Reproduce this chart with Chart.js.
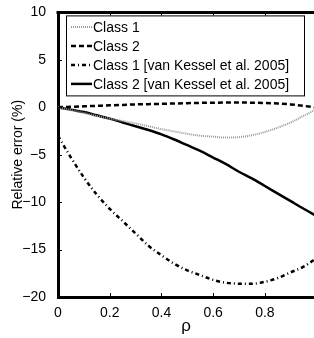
<!DOCTYPE html>
<html>
<head>
<meta charset="UTF-8">
<title>Relative error</title>
<script src="https://cdn.jsdelivr.net/npm/chart.js"></script>
<style>
  html, body { margin: 0; padding: 0; background: #fff; }
  #wrap { width: 314px; height: 338px; }
</style>
</head>
<body>
<div id="wrap"><canvas id="grafico"></canvas></div>
<script>
  const rho = [0, 0.05, 0.1, 0.15, 0.2, 0.25, 0.3, 0.35, 0.4, 0.45, 0.5,
               0.55, 0.6, 0.65, 0.7, 0.75, 0.8, 0.85, 0.9, 0.95, 1.0];
  const class1 = [0, -0.3, -0.6, -0.9, -1.2, -1.45, -1.7, -2.0, -2.3, -2.55, -2.8,
                  -3.0, -3.1, -3.2, -3.15, -2.95, -2.6, -2.15, -1.6, -0.9, -0.2];
  const class2 = [0, 0.05, 0.1, 0.15, 0.2, 0.25, 0.3, 0.33, 0.36, 0.4, 0.43,
                  0.46, 0.48, 0.5, 0.5, 0.48, 0.45, 0.4, 0.3, 0.15, -0.05];
  const class1VK = [-3.0, -5.3, -7.4, -9.2, -10.7, -12.0, -13.3, -14.6, -15.6, -16.5, -17.2,
                    -17.7, -18.2, -18.5, -18.6, -18.6, -18.4, -18.0, -17.4, -16.8, -15.9];
  const class2VK = [0, -0.25, -0.5, -0.85, -1.2, -1.6, -2.0, -2.4, -2.85, -3.4, -4.0,
                    -4.6, -5.3, -6.0, -6.8, -7.5, -8.3, -9.1, -9.9, -10.7, -11.45];
  const legendas = ['Class 1', 'Class 2', 'Class 1 [van Kessel et al. 2005]', 'Class 2 [van Kessel et al. 2005]'];
  const yTicks = [10, 5, 0, -5, -10, -15, -20];
  const xTicks = [0, 0.2, 0.4, 0.6, 0.8];

  const fonte = "'Liberation Sans', Arial, Helvetica, sans-serif";

  function pontos(ys) {
    return rho.map((x, i) => ({ x: x, y: ys[i] }));
  }

  const estilos = [
    { borderColor: '#999', borderWidth: 2, borderDash: [1, 1] },
    { borderColor: '#000', borderWidth: 2.5, borderDash: [5, 3] },
    { borderColor: '#000', borderWidth: 2.5, borderDash: [4, 3, 1, 3] },
    { borderColor: '#000', borderWidth: 2.5, borderDash: [] }
  ];
  const series = [class1, class2, class1VK, class2VK];

  // ticks para dentro, moldura de cima e legenda dentro do gráfico
  const moldura = {
    id: 'moldura',
    afterDatasetsDraw(chart) {
      const { ctx, chartArea: a, scales: { x, y } } = chart;
      ctx.save();
      ctx.strokeStyle = '#000';
      ctx.lineWidth = 1;
      ctx.beginPath();
      xTicks.forEach(v => {
        const px = Math.round(x.getPixelForValue(v)) + 0.5;
        ctx.moveTo(px, a.bottom); ctx.lineTo(px, a.bottom - 4);
        ctx.moveTo(px, a.top); ctx.lineTo(px, a.top + 4);
      });
      yTicks.forEach(v => {
        const py = Math.round(y.getPixelForValue(v)) + 0.5;
        ctx.moveTo(a.left, py); ctx.lineTo(a.left + 4, py);
      });
      ctx.stroke();
      ctx.lineWidth = 3;
      ctx.beginPath();
      ctx.moveTo(a.left - 1.5, a.top);
      ctx.lineTo(a.right, a.top);
      ctx.stroke();

      // legenda
      const bx = a.left + 8, by = a.top + 3, bw = 238, bh = 80;
      ctx.fillStyle = '#fff';
      ctx.fillRect(bx, by, bw, bh);
      ctx.lineWidth = 1;
      ctx.strokeRect(bx + 0.5, by + 0.5, bw, bh);
      ctx.font = '14px ' + fonte;
      ctx.textBaseline = 'middle';
      legendas.forEach((txt, i) => {
        const ly = by + 11.5 + i * 19;
        const e = estilos[i];
        ctx.strokeStyle = e.borderColor;
        ctx.lineWidth = e.borderWidth;
        ctx.setLineDash(e.borderDash);
        ctx.beginPath();
        ctx.moveTo(bx + 5, ly);
        ctx.lineTo(bx + 26, ly);
        ctx.stroke();
        ctx.setLineDash([]);
        ctx.fillStyle = '#000';
        ctx.fillText(txt, bx + 27, ly + 1);
      });
      ctx.restore();
    }
  };

  new Chart(document.getElementById('grafico'), {
    type: 'line',
    data: {
      datasets: series.map((s, i) => Object.assign({
        label: legendas[i],
        data: pontos(s),
        pointRadius: 0,
        fill: false,
        cubicInterpolationMode: 'monotone'
      }, estilos[i]))
    },
    options: {
      responsive: true,
      maintainAspectRatio: false,
      animation: false,
      layout: { padding: { top: 9, right: 0, left: 0, bottom: 0 } },
      plugins: { legend: { display: false }, tooltip: { enabled: false } },
      scales: {
        x: {
          type: 'linear',
          min: 0,
          max: 0.99,
          afterBuildTicks: s => { s.ticks = xTicks.map(v => ({ value: v })); },
          afterFit: s => { s.height = 41; },
          ticks: {
            color: '#000',
            font: { family: fonte, size: 14 },
            padding: 0,
            maxRotation: 0,
            callback: v => String(v)
          },
          grid: { display: false },
          border: { display: true, color: '#000', width: 3 },
          title: { display: true, text: 'ρ', color: '#000', font: { family: fonte, size: 17 }, padding: { top: 0, bottom: 1 } }
        },
        y: {
          min: -20,
          max: 10,
          afterBuildTicks: s => { s.ticks = yTicks.map(v => ({ value: v })); },
          afterFit: s => { s.width = 58; },
          ticks: {
            color: '#000',
            font: { family: fonte, size: 14 },
            padding: 4,
            callback: v => String(v).replace('-', '\u2212')
          },
          grid: { display: false },
          border: { display: true, color: '#000', width: 3 },
          title: { display: true, text: 'Relative error (%)', color: '#000', font: { family: fonte, size: 14 }, padding: { top: 10, bottom: 0 } }
        }
      }
    },
    plugins: [moldura]
  });
</script>
</body>
</html>
